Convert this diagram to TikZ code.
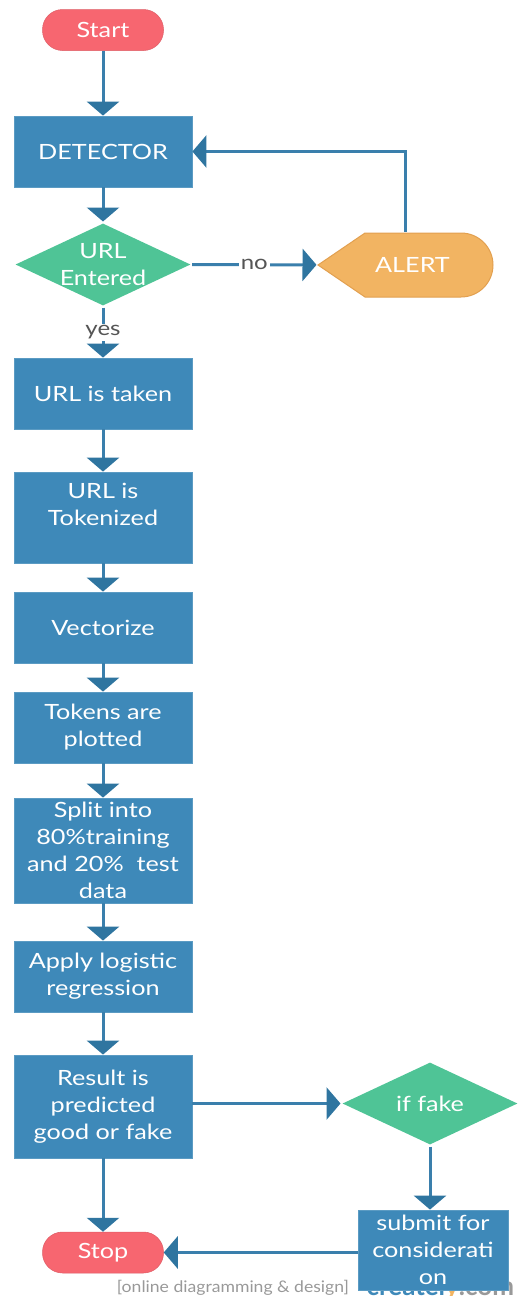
\documentclass[tikz,border=0pt]{standalone}
\usepackage{fontspec}
\setmainfont{Lato}
\usepackage{tikz}
\usetikzlibrary{arrows.meta,shapes.geometric}
\definecolor{boxblue}{RGB}{62,137,185}
\definecolor{lineblue}{RGB}{58,127,172}
\definecolor{tipblue}{RGB}{47,117,160}
\definecolor{pillred}{RGB}{247,102,112}
\definecolor{diagreen}{RGB}{79,196,150}
\definecolor{alertorange}{RGB}{242,180,98}
\definecolor{alertedge}{RGB}{226,160,80}
\definecolor{labelgray}{RGB}{85,85,85}

\begin{document}
\begin{tikzpicture}
[x=1pt,y=-1pt,line width=3pt,draw=lineblue,
->,>={Triangle[width=32pt,length=14pt,color=tipblue]},
txt/.style   ={text=white, align=center, font={\fontsize{21}{27}\selectfont\addfontfeature{FakeStretch=1.2}}},
block/.style ={rectangle, draw=boxblue!85!white, line width=0.8pt, fill=boxblue, minimum width=178pt, minimum height=71pt, inner sep=0pt, txt},
pill/.style  ={rectangle, rounded corners=20pt, fill=pillred, draw=pillred!90!black, line width=0.5pt, minimum width=121pt, minimum height=41pt, inner sep=0pt, txt},
decision/.style={diamond, fill=diagreen, draw=none, minimum width=176pt, minimum height=83pt, inner sep=0pt},
lbl/.style   ={fill=white, text=labelgray, inner sep=2pt, font={\fontsize{20}{22}\selectfont\addfontfeature{FakeStretch=1.2}}}]
\useasboundingbox (0,0) rectangle (526,1296);

    \node[pill] (start) at (103,30) {Start};
    \node[block] (detector) at (103,151.5) {DETECTOR};
    \node[decision] (url) at (103,264.5) {};
    \node[txt] at (url) {URL\\Entered};
    \node[minimum width=175pt, minimum height=64pt, inner sep=0pt] (alert) at (405.5,265) {};
    % display shape: pointed left side, round right end
    \filldraw[-, fill=alertorange, draw=alertedge, line width=1pt] (318,265) -- (365,233) -- (461,233)
      .. controls (478.7,233) and (493,247.3) .. (493,265)
      .. controls (493,282.7) and (478.7,297) .. (461,297) -- (365,297) -- cycle;
    \node[txt] at ([xshift=7pt]alert.center) {ALERT};
    \node[block] (taken) at (103,393.5) {URL is taken};
    \node[block, minimum height=91pt] (tokenized) at (103,517.5) {URL is\\Tokenized\\~};
    \node[block] (vectorize) at (103,627.5) {Vectorize};
    \node[block] (plotted) at (103,727.5) {Tokens are\\plotted};
    \node[block, minimum height=105pt] (split) at (103,850.5) {Split into\\80\%training\\and 20\%~~test\\data};
    \node[block] (apply) at (103,976.5) {Apply logistic\\regression};
    \node[block, minimum height=103pt] (result) at (103,1106.5) {Result is\\predicted\\good or fake};
    \node[decision] (iffake) at (430,1103.5) {};
    \node[txt] at (iffake) {if fake};
    % watermark, mostly hidden behind the last box
    \node[text=labelgray!60, font={\fontsize{16}{18}\selectfont\addfontfeature{FakeStretch=1.1}}] (mark) at (233,1288) {[online diagramming \& design]};
    \node[font={\fontsize{26}{26}\selectfont\bfseries}, anchor=base west, inner sep=0pt] (logo) at (365,1295)
      {\textcolor{boxblue}{create}\textcolor{boxblue}{l}\textcolor{alertorange}{y}\textcolor{labelgray!60}{.com}};
    \node[block, minimum width=150pt, minimum height=80pt] (submit) at (433,1250) {submit for\\considerati\\on};
    \node[pill] (stop) at (103,1252.5) {Stop};

    \path (start) edge (detector);
    \path (detector) edge (url);
    \path (url) edge node[lbl] {no} (alert);
    \draw (alert.north) |- (detector.east);
    \path (url) edge node[lbl] {yes} (taken);
    \path (taken) edge (tokenized);
    \path (tokenized) edge (vectorize);
    \path (vectorize) edge (plotted);
    \path (plotted) edge (split);
    \path (split) edge (apply);
    \path (apply) edge (result);
    \draw (result.east |- iffake.west) -- (iffake.west);
    \draw (iffake.south) -- (iffake.south |- submit.north);
    \path (result) edge (stop);
    \draw (submit.west |- stop.east) -- (stop.east);
\end{tikzpicture}
\end{document}
